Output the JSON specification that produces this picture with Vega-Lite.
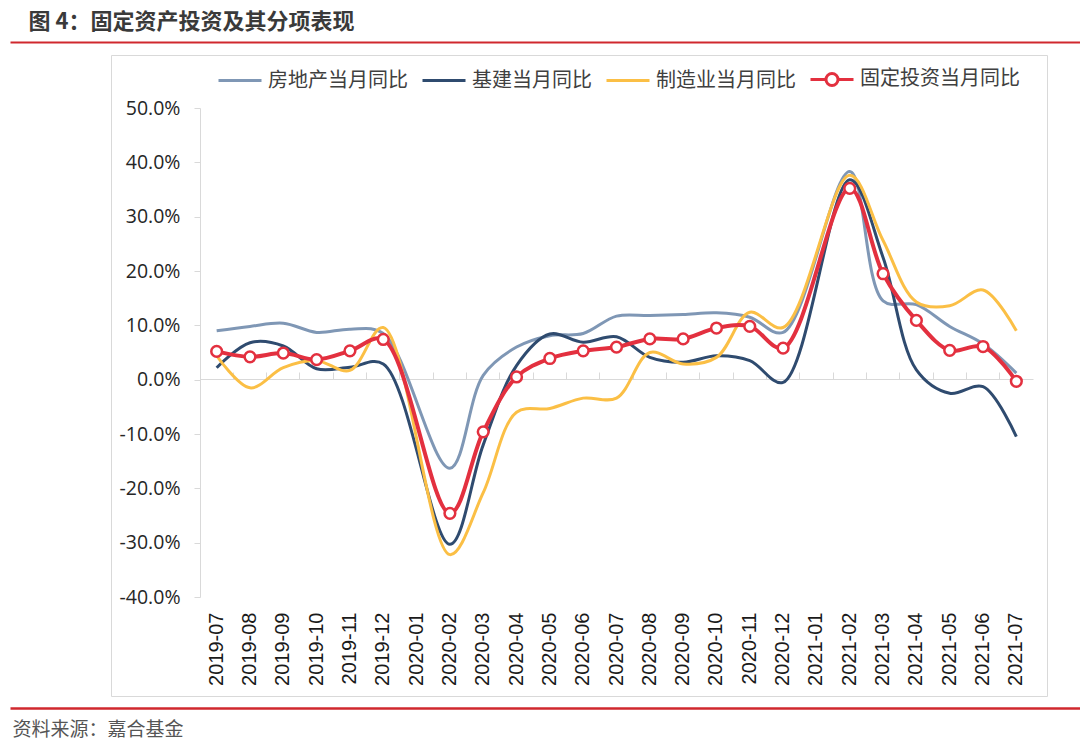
{
  "$schema": "https://vega.github.io/schema/vega-lite/v6.json",
  "width": 1070,
  "height": 666,
  "autosize": "none",
  "padding": {"left": 10, "top": 42, "right": 0, "bottom": 44},
  "background": "white",
  "config": {
    "view": {"stroke": null},
    "axis": {"grid": false},
    "legend": {
      "orient": "none",
      "legendX": 207,
      "legendY": 14,
      "direction": "horizontal",
      "labelFont": "Noto Sans CJK SC",
      "labelFontSize": 20,
      "labelColor": "#404040",
      "labelOffset": 5,
      "columnPadding": 8,
      "symbolSize": 1849,
      "symbolStrokeWidth": 3,
      "labelLimit": 0
    }
  },
  "datasets": {
    "frame": [{"t": 0}, {"t": 1}],
    "yoy": [
      {"month": "2019-07", "series": "房地产当月同比", "value": 9.0},
      {"month": "2019-08", "series": "房地产当月同比", "value": 9.8},
      {"month": "2019-09", "series": "房地产当月同比", "value": 10.4},
      {"month": "2019-10", "series": "房地产当月同比", "value": 8.7},
      {"month": "2019-11", "series": "房地产当月同比", "value": 9.3},
      {"month": "2019-12", "series": "房地产当月同比", "value": 8.5},
      {"month": "2020-02", "series": "房地产当月同比", "value": -16.3},
      {"month": "2020-03", "series": "房地产当月同比", "value": 0.8},
      {"month": "2020-04", "series": "房地产当月同比", "value": 6.0},
      {"month": "2020-05", "series": "房地产当月同比", "value": 8.1},
      {"month": "2020-06", "series": "房地产当月同比", "value": 8.5},
      {"month": "2020-07", "series": "房地产当月同比", "value": 11.7},
      {"month": "2020-08", "series": "房地产当月同比", "value": 11.8},
      {"month": "2020-09", "series": "房地产当月同比", "value": 12.0},
      {"month": "2020-10", "series": "房地产当月同比", "value": 12.3},
      {"month": "2020-11", "series": "房地产当月同比", "value": 11.5},
      {"month": "2020-12", "series": "房地产当月同比", "value": 8.7},
      {"month": "2021-02", "series": "房地产当月同比", "value": 38.3},
      {"month": "2021-03", "series": "房地产当月同比", "value": 14.5},
      {"month": "2021-04", "series": "房地产当月同比", "value": 13.8},
      {"month": "2021-05", "series": "房地产当月同比", "value": 9.8},
      {"month": "2021-06", "series": "房地产当月同比", "value": 6.6},
      {"month": "2021-07", "series": "房地产当月同比", "value": 1.2},
      {"month": "2019-07", "series": "基建当月同比", "value": 2.2},
      {"month": "2019-08", "series": "基建当月同比", "value": 6.8},
      {"month": "2019-09", "series": "基建当月同比", "value": 6.2},
      {"month": "2019-10", "series": "基建当月同比", "value": 2.0},
      {"month": "2019-11", "series": "基建当月同比", "value": 2.3},
      {"month": "2019-12", "series": "基建当月同比", "value": 2.9},
      {"month": "2020-02", "series": "基建当月同比", "value": -30.3},
      {"month": "2020-03", "series": "基建当月同比", "value": -12.0},
      {"month": "2020-04", "series": "基建当月同比", "value": 2.6},
      {"month": "2020-05", "series": "基建当月同比", "value": 8.4},
      {"month": "2020-06", "series": "基建当月同比", "value": 6.9},
      {"month": "2020-07", "series": "基建当月同比", "value": 7.9},
      {"month": "2020-08", "series": "基建当月同比", "value": 4.1},
      {"month": "2020-09", "series": "基建当月同比", "value": 3.2},
      {"month": "2020-10", "series": "基建当月同比", "value": 4.4},
      {"month": "2020-11", "series": "基建当月同比", "value": 3.5},
      {"month": "2020-12", "series": "基建当月同比", "value": -0.5},
      {"month": "2021-02", "series": "基建当月同比", "value": 36.8},
      {"month": "2021-03", "series": "基建当月同比", "value": 22.5},
      {"month": "2021-04", "series": "基建当月同比", "value": 1.8},
      {"month": "2021-05", "series": "基建当月同比", "value": -2.5},
      {"month": "2021-06", "series": "基建当月同比", "value": -1.3},
      {"month": "2021-07", "series": "基建当月同比", "value": -10.5},
      {"month": "2019-07", "series": "制造业当月同比", "value": 4.4},
      {"month": "2019-08", "series": "制造业当月同比", "value": -1.5},
      {"month": "2019-09", "series": "制造业当月同比", "value": 2.2},
      {"month": "2019-10", "series": "制造业当月同比", "value": 3.5},
      {"month": "2019-11", "series": "制造业当月同比", "value": 1.7},
      {"month": "2019-12", "series": "制造业当月同比", "value": 9.6},
      {"month": "2020-02", "series": "制造业当月同比", "value": -32.2},
      {"month": "2020-03", "series": "制造业当月同比", "value": -20.8},
      {"month": "2020-04", "series": "制造业当月同比", "value": -6.0},
      {"month": "2020-05", "series": "制造业当月同比", "value": -5.3},
      {"month": "2020-06", "series": "制造业当月同比", "value": -3.4},
      {"month": "2020-07", "series": "制造业当月同比", "value": -3.4},
      {"month": "2020-08", "series": "制造业当月同比", "value": 5.0},
      {"month": "2020-09", "series": "制造业当月同比", "value": 2.9},
      {"month": "2020-10", "series": "制造业当月同比", "value": 4.1},
      {"month": "2020-11", "series": "制造业当月同比", "value": 12.4},
      {"month": "2020-12", "series": "制造业当月同比", "value": 9.6},
      {"month": "2021-02", "series": "制造业当月同比", "value": 37.6},
      {"month": "2021-03", "series": "制造业当月同比", "value": 25.6},
      {"month": "2021-04", "series": "制造业当月同比", "value": 14.3},
      {"month": "2021-05", "series": "制造业当月同比", "value": 13.6},
      {"month": "2021-06", "series": "制造业当月同比", "value": 16.5},
      {"month": "2021-07", "series": "制造业当月同比", "value": 9.0},
      {"month": "2019-07", "series": "固定投资当月同比", "value": 5.2},
      {"month": "2019-08", "series": "固定投资当月同比", "value": 4.2},
      {"month": "2019-09", "series": "固定投资当月同比", "value": 4.9},
      {"month": "2019-10", "series": "固定投资当月同比", "value": 3.7},
      {"month": "2019-11", "series": "固定投资当月同比", "value": 5.3},
      {"month": "2019-12", "series": "固定投资当月同比", "value": 7.4},
      {"month": "2020-02", "series": "固定投资当月同比", "value": -24.6},
      {"month": "2020-03", "series": "固定投资当月同比", "value": -9.6},
      {"month": "2020-04", "series": "固定投资当月同比", "value": 0.5},
      {"month": "2020-05", "series": "固定投资当月同比", "value": 3.9},
      {"month": "2020-06", "series": "固定投资当月同比", "value": 5.3},
      {"month": "2020-07", "series": "固定投资当月同比", "value": 6.0},
      {"month": "2020-08", "series": "固定投资当月同比", "value": 7.5},
      {"month": "2020-09", "series": "固定投资当月同比", "value": 7.5},
      {"month": "2020-10", "series": "固定投资当月同比", "value": 9.5},
      {"month": "2020-11", "series": "固定投资当月同比", "value": 9.8},
      {"month": "2020-12", "series": "固定投资当月同比", "value": 5.8},
      {"month": "2021-02", "series": "固定投资当月同比", "value": 35.2},
      {"month": "2021-03", "series": "固定投资当月同比", "value": 19.5},
      {"month": "2021-04", "series": "固定投资当月同比", "value": 10.9},
      {"month": "2021-05", "series": "固定投资当月同比", "value": 5.4},
      {"month": "2021-06", "series": "固定投资当月同比", "value": 6.1},
      {"month": "2021-07", "series": "固定投资当月同比", "value": -0.3}
    ]
  },
  "resolve": {
    "scale": {"x": "independent", "y": "independent"},
    "axis": {"x": "independent", "y": "independent"}
  },
  "layer": [
    {
      "data": {"name": "frame"},
      "mark": {"type": "point", "opacity": 0},
      "encoding": {
        "x": {
          "field": "t", "type": "quantitative",
          "scale": {"domain": [0, 1], "nice": false, "zero": false},
          "axis": {
            "orient": "top", "domainColor": "#d0282e", "domainWidth": 2,
            "ticks": false, "labels": false, "grid": false,
            "title": "图 4：固定资产投资及其分项表现",
            "titleFont": "Noto Sans CJK SC", "titleFontSize": 22, "titleFontWeight": "bold",
            "titleColor": "#3a3a3a", "titleAnchor": "start", "titleAlign": "left",
            "titleX": 18, "titlePadding": 9
          }
        },
        "y": {
          "field": "t", "type": "quantitative",
          "scale": {"domain": [0, 1], "nice": false, "zero": false},
          "axis": null
        }
      }
    },
    {
      "data": {"name": "frame"},
      "mark": {"type": "point", "opacity": 0},
      "encoding": {
        "x": {
          "field": "t", "type": "quantitative",
          "scale": {"domain": [0, 1], "nice": false, "zero": false},
          "axis": {
            "orient": "bottom", "domainColor": "#d0282e", "domainWidth": 2.5,
            "ticks": false, "labels": false, "grid": false,
            "title": "资料来源：嘉合基金",
            "titleFont": "Noto Sans CJK SC", "titleFontSize": 19, "titleFontWeight": "normal",
            "titleColor": "#555555", "titleAnchor": "start", "titleAlign": "left",
            "titleX": 2, "titlePadding": 12
          }
        },
        "y": {
          "field": "t", "type": "quantitative",
          "scale": {"domain": [0, 1], "nice": false, "zero": false},
          "axis": null
        }
      }
    },
    {
      "data": {"name": "frame"},
      "mark": {"type": "point", "opacity": 0},
      "encoding": {
        "x": {
          "field": "t", "type": "quantitative",
          "scale": {"domain": [0, 1], "range": [101, 1037], "nice": false, "zero": false},
          "axis": {"orient": "top", "offset": -13, "domainColor": "#d9d9d9", "domainWidth": 1, "ticks": false, "labels": false, "grid": false, "title": null}
        },
        "y": {
          "field": "t", "type": "quantitative",
          "scale": {"domain": [0, 1], "range": [654, 13], "nice": false, "zero": false},
          "axis": {"orient": "left", "offset": -101, "domainColor": "#d9d9d9", "domainWidth": 1, "ticks": false, "labels": false, "grid": false, "title": null}
        }
      }
    },
    {
      "data": {"name": "frame"},
      "mark": {"type": "point", "opacity": 0},
      "encoding": {
        "x": {
          "field": "t", "type": "quantitative",
          "scale": {"domain": [0, 1], "range": [101, 1037], "nice": false, "zero": false},
          "axis": {"orient": "bottom", "offset": -12, "domainColor": "#d9d9d9", "domainWidth": 1, "ticks": false, "labels": false, "grid": false, "title": null}
        },
        "y": {
          "field": "t", "type": "quantitative",
          "scale": {"domain": [0, 1], "range": [654, 13], "nice": false, "zero": false},
          "axis": {"orient": "right", "offset": -33, "domainColor": "#d9d9d9", "domainWidth": 1, "ticks": false, "labels": false, "grid": false, "title": null}
        }
      }
    },
    {
      "data": {"name": "yoy"},
      "transform": [{"filter": "datum.series !== '固定投资当月同比'"}],
      "mark": {"type": "line", "interpolate": "catmull-rom", "strokeWidth": 3},
      "encoding": {
        "x": {
          "field": "month", "type": "ordinal", "bandPosition": 0.5,
          "scale": {"type": "band", "domain": ["2019-07","2019-08","2019-09","2019-10","2019-11","2019-12","2020-01","2020-02","2020-03","2020-04","2020-05","2020-06","2020-07","2020-08","2020-09","2020-10","2020-11","2020-12","2021-01","2021-02","2021-03","2021-04","2021-05","2021-06","2021-07"], "range": [190, 1023], "paddingInner": 0, "paddingOuter": 0},
          "axis": {
            "orient": "bottom", "offset": -111, "domain": false, "ticks": false,
            "labelAngle": -90, "labelPadding": 15, "labelFont": "Liberation Sans",
            "labelFontSize": 20, "labelColor": "#1a1a1a", "labelOverlap": false, "title": null
          }
        },
        "y": {
          "field": "value", "type": "quantitative",
          "scale": {"domain": [-40, 50], "range": [555, 66], "nice": false, "zero": false},
          "axis": {
            "orient": "left", "offset": -190,
            "values": [-40, -30, -20, -10, 0, 10, 20, 30, 40, 50],
            "labelExpr": "(datum.value < 0 ? '-' : '') + format(abs(datum.value), '.1f') + '%'",
            "domainColor": "#d9d9d9", "tickColor": "#d9d9d9", "tickSize": 6, "labelPadding": 14,
            "labelFont": "Open Sans", "labelFontSize": 19.5, "labelColor": "#262626",
            "grid": false, "title": null
          }
        },
        "color": {
          "field": "series", "type": "nominal",
          "scale": {"domain": ["房地产当月同比", "基建当月同比", "制造业当月同比", "固定投资当月同比"], "range": ["#7f97b5", "#2f4b6f", "#fbbf45", "#e3303f"]},
          "legend": {
            "title": null,
            "symbolType": {"expr": "datum.value === '固定投资当月同比' ? 'M-1,0H-0.28M0.28,0H1M-0.28,0A0.28,0.28,0,1,1,0.28,0A0.28,0.28,0,1,1,-0.28,0Z' : 'stroke'"}
          }
        }
      }
    },
    {
      "data": {"name": "yoy"},
      "transform": [{"filter": "datum.series === '固定投资当月同比'"}],
      "mark": {"type": "line", "interpolate": "catmull-rom", "strokeWidth": 4},
      "encoding": {
        "x": {
          "field": "month", "type": "ordinal", "bandPosition": 0.5,
          "scale": {"type": "band", "domain": ["2019-07","2019-08","2019-09","2019-10","2019-11","2019-12","2020-01","2020-02","2020-03","2020-04","2020-05","2020-06","2020-07","2020-08","2020-09","2020-10","2020-11","2020-12","2021-01","2021-02","2021-03","2021-04","2021-05","2021-06","2021-07"], "range": [190, 1023], "paddingInner": 0, "paddingOuter": 0},
          "axis": {
            "orient": "top", "offset": -337, "labels": false, "ticks": true, "tickSize": 7,
            "tickColor": "#d9d9d9", "domainColor": "#d9d9d9", "domainWidth": 1.2,
            "bandPosition": 0, "grid": false, "title": null
          }
        },
        "y": {
          "field": "value", "type": "quantitative",
          "scale": {"domain": [-40, 50], "range": [555, 66], "nice": false, "zero": false},
          "axis": null
        },
        "color": {
          "field": "series", "type": "nominal",
          "scale": {"domain": ["房地产当月同比", "基建当月同比", "制造业当月同比", "固定投资当月同比"], "range": ["#7f97b5", "#2f4b6f", "#fbbf45", "#e3303f"]},
          "legend": {
            "title": null,
            "symbolType": {"expr": "datum.value === '固定投资当月同比' ? 'M-1,0H-0.28M0.28,0H1M-0.28,0A0.28,0.28,0,1,1,0.28,0A0.28,0.28,0,1,1,-0.28,0Z' : 'stroke'"}
          }
        }
      }
    },
    {
      "data": {"name": "yoy"},
      "transform": [{"filter": "datum.series === '固定投资当月同比'"}],
      "mark": {"type": "point", "shape": "circle", "filled": true, "fill": "white", "stroke": "#e3303f", "strokeWidth": 2.5, "size": 115, "opacity": 1},
      "encoding": {
        "x": {
          "field": "month", "type": "ordinal", "bandPosition": 0.5,
          "scale": {"type": "band", "domain": ["2019-07","2019-08","2019-09","2019-10","2019-11","2019-12","2020-01","2020-02","2020-03","2020-04","2020-05","2020-06","2020-07","2020-08","2020-09","2020-10","2020-11","2020-12","2021-01","2021-02","2021-03","2021-04","2021-05","2021-06","2021-07"], "range": [190, 1023], "paddingInner": 0, "paddingOuter": 0},
          "axis": null
        },
        "y": {
          "field": "value", "type": "quantitative",
          "scale": {"domain": [-40, 50], "range": [555, 66], "nice": false, "zero": false},
          "axis": null
        }
      }
    }
  ]
}
